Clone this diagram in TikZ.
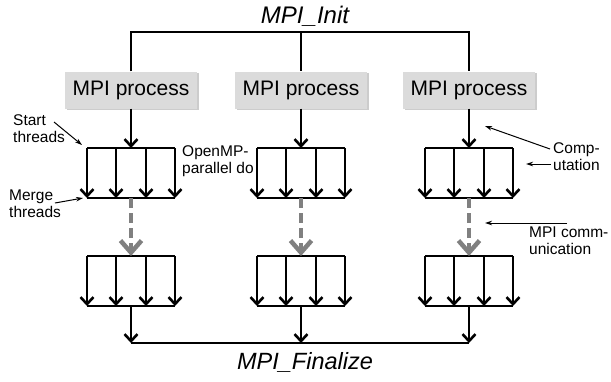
\documentclass[tikz,border=0pt]{standalone}
\usepackage{fontspec}
\setmainfont{Liberation Sans}
\usetikzlibrary{arrows.meta,shadows}

\tikzset{
  proc/.style={fill=black!14, minimum width=132pt, minimum height=37pt, inner sep=0pt,
    font=\fontsize{21}{21}\selectfont,
    drop shadow={shadow xshift=1.5pt, shadow yshift=-1.5pt, fill=black!40, opacity=0.5}},
  line/.style={line width=2.6pt},
  flow/.style={line width=2.6pt, -{Straight Barb[length=7pt,width=13pt]}},
  comm/.style={line width=4.5pt, black!50, dash pattern=on 10pt off 5pt,
    -{Straight Barb[length=12pt,width=21pt]}},
  note/.style={font=\fontsize{15.5}{17}\selectfont, align=left, inner sep=0pt, anchor=west},
  pointer/.style={line width=1pt, -{Stealth[length=7pt,width=4.5pt]}},
}

\begin{document}
\begin{tikzpicture}[x=1pt,y=-1pt]
\useasboundingbox (0,0) rectangle (611,381);

\node (init) at (305,16) {\fontsize{24}{24}\selectfont\itshape MPI\_Init};
\node (fin) at (305,362) {\fontsize{23.5}{24}\selectfont\itshape MPI\_Finalize};
\coordinate (top) at (301,32);

% one column per MPI process
\foreach \c/\x in {1/131,2/301,3/469}{
  \node[proc] (proc\c) at (\x,90) {MPI process};
  \foreach \r/\y in {1/148,2/256}{
    \foreach \k/\dx in {1/-44,2/-15,3/15,4/44}{
      \coordinate (fork\c\r\k) at (\x+\dx,\y);
      \coordinate (join\c\r\k) at (\x+\dx,\y+50);
    }
    \coordinate (fork\c\r) at (\x,\y);
    \coordinate (join\c\r) at (\x,\y+50);
    \draw[line] (fork\c\r1) -- (fork\c\r4);
    \draw[line] (join\c\r1) -- (join\c\r4);
    \foreach \k in {1,...,4} \draw[flow] (fork\c\r\k) -- (join\c\r\k);
  }
  \coordinate (end\c) at (\x,343);
  \draw[flow] (proc\c) -- (fork\c1);
  \draw[comm] (join\c1) -- (fork\c2);
  \draw[flow] (join\c2) -- (end\c);
}

\draw[line] (proc1.north) |- (top) -| (proc3.north);
\draw[line] (top) -- (proc2.north);
\draw[line] (end1) -- (end3);

% labels
\node[note] (start) at (13,129) {Start\\threads};
\node[note] (merge) at (9,204) {Merge\\threads};
\node[note] (omp) at (182,161) {OpenMP-\\parallel do};
\node[note] (comp) at (553,157) {Comp-\\utation};
\node[note] (mpicomm) at (529,241) {MPI comm-\\unication};

\coordinate (startTail) at (54,122);
\coordinate (startHead) at (82,145);
\coordinate (mergeTail) at (55,203);
\coordinate (mergeHead) at (83,198);
\coordinate (compTail1) at (550,149);
\coordinate (compHead1) at (485,126);
\coordinate (compTail2) at (551,164);
\coordinate (compHead2) at (526,164);
\coordinate (commTail) at (567,223);
\coordinate (commHead) at (485,223);

\draw[pointer] (startTail) -- (startHead);
\draw[pointer] (mergeTail) -- (mergeHead);
\draw[pointer] (compTail1) -- (compHead1);
\draw[pointer] (compTail2) -- (compHead2);
\draw[pointer] (commTail) -- (commHead);
\end{tikzpicture}
\end{document}
